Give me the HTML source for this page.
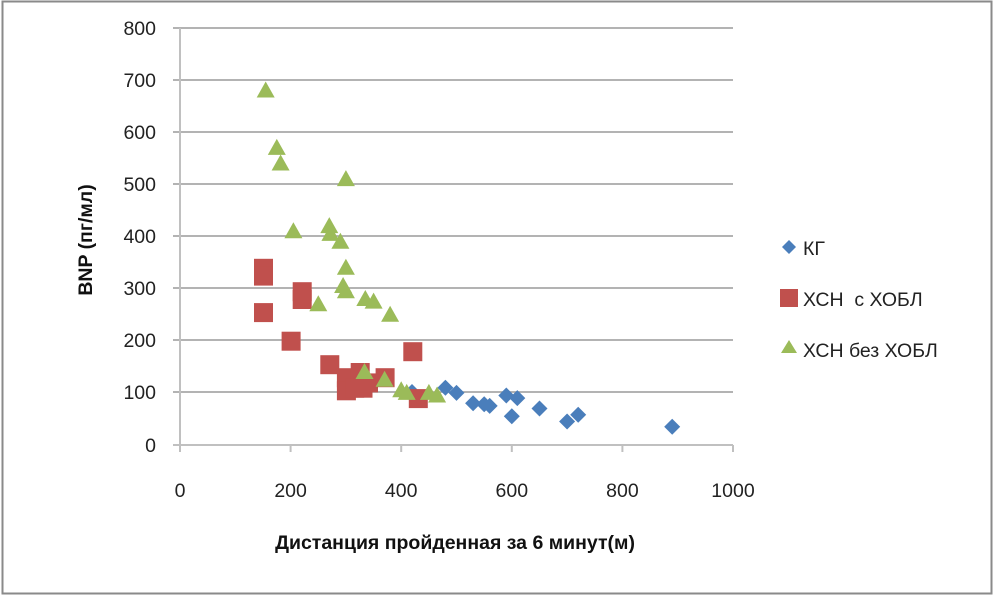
<!DOCTYPE html>
<html><head><meta charset="utf-8"><style>
body{margin:0;background:#fff}
svg{display:block;font-family:"Liberation Sans","DejaVu Sans",sans-serif}
</style></head><body>
<svg width="994" height="595" viewBox="0 0 994 595" xmlns="http://www.w3.org/2000/svg">
<rect x="2.5" y="1.5" width="989" height="592" fill="#fff" stroke="#8a8a8a" stroke-width="2"/>
<g stroke="#9a9a9a" stroke-width="1.5">
<line x1="173" y1="28" x2="733" y2="28"/>
<line x1="173" y1="80" x2="733" y2="80"/>
<line x1="173" y1="132" x2="733" y2="132"/>
<line x1="173" y1="184" x2="733" y2="184"/>
<line x1="173" y1="236" x2="733" y2="236"/>
<line x1="173" y1="288" x2="733" y2="288"/>
<line x1="173" y1="340" x2="733" y2="340"/>
<line x1="173" y1="392" x2="733" y2="392"/>
</g>
<g stroke="#c0c0c0" stroke-width="2">
<line x1="180" y1="28" x2="180" y2="445"/>
<line x1="173" y1="445" x2="733" y2="445"/>
<line x1="180" y1="445" x2="180" y2="452"/>
<line x1="290.6" y1="445" x2="290.6" y2="452"/>
<line x1="401.2" y1="445" x2="401.2" y2="452"/>
<line x1="511.8" y1="445" x2="511.8" y2="452"/>
<line x1="622.4" y1="445" x2="622.4" y2="452"/>
<line x1="733" y1="445" x2="733" y2="452"/>
</g>
<g font-size="19.5" fill="#222" text-anchor="end">
<text x="156" y="35">800</text><text x="156" y="87">700</text><text x="156" y="139">600</text>
<text x="156" y="191">500</text><text x="156" y="243">400</text><text x="156" y="295">300</text>
<text x="156" y="347">200</text><text x="156" y="399">100</text><text x="156" y="452">0</text>
</g>
<g font-size="19.5" fill="#222" text-anchor="middle">
<text x="180" y="497">0</text><text x="290.6" y="497">200</text><text x="401.2" y="497">400</text>
<text x="511.8" y="497">600</text><text x="622.4" y="497">800</text><text x="733" y="497">1000</text>
</g>
<text x="455" y="549" font-size="19.5" font-weight="bold" text-anchor="middle" fill="#111">Дистанция пройденная за 6 минут(м)</text>
<text transform="translate(92,240) rotate(-90)" font-size="19.5" font-weight="bold" text-anchor="middle" fill="#111">BNP (пг/мл)</text>
<g fill="#4a7ebb">
<path d="M445.4 379.7l8 8-8 8-8-8z"/><path d="M456.5 384.9l8 8-8 8-8-8z"/>
<path d="M473.1 395.3l8 8-8 8-8-8z"/><path d="M484.2 396.3l8 8-8 8-8-8z"/>
<path d="M489.7 397.9l8 8-8 8-8-8z"/><path d="M506.3 387.5l8 8-8 8-8-8z"/>
<path d="M517.3 390.1l8 8-8 8-8-8z"/><path d="M511.8 408.3l8 8-8 8-8-8z"/>
<path d="M539.5 400.5l8 8-8 8-8-8z"/><path d="M567.1 413.5l8 8-8 8-8-8z"/>
<path d="M578.2 406.8l8 8-8 8-8-8z"/><path d="M672.2 418.8l8 8-8 8-8-8z"/>
<path d="M412 384l8 8-8 8-8-8z"/>
</g>
<g fill="#c0504d">
<rect x="254" y="258.8" width="19" height="19"/><rect x="254" y="266.6" width="19" height="19"/>
<rect x="254" y="303.1" width="19" height="19"/><rect x="292.7" y="282.2" width="19" height="19"/>
<rect x="292.7" y="290" width="19" height="19"/><rect x="281.6" y="331.7" width="19" height="19"/>
<rect x="320.3" y="355.2" width="19" height="19"/><rect x="336.9" y="368.2" width="19" height="19"/>
<rect x="336.9" y="381.3" width="19" height="19"/><rect x="345.2" y="378.7" width="19" height="19"/>
<rect x="350.7" y="363" width="19" height="19"/><rect x="353.5" y="378.7" width="19" height="19"/>
<rect x="359" y="373.4" width="19" height="19"/><rect x="375.6" y="368.2" width="19" height="19"/>
<rect x="403.3" y="342.2" width="19" height="19"/><rect x="408.8" y="389.1" width="19" height="19"/>
</g>
<g fill="#9bbb59">
<path d="M265.7 81.5l9 16h-18z"/><path d="M276.8 138.9l9 16h-18z"/><path d="M280.6 154.5l9 16h-18z"/>
<path d="M345.9 170.1l9 16h-18z"/><path d="M293.4 222.3l9 16h-18z"/><path d="M329.3 217.1l9 16h-18z"/>
<path d="M330.4 224.9l9 16h-18z"/><path d="M340.4 232.7l9 16h-18z"/><path d="M345.9 258.8l9 16h-18z"/>
<path d="M343.1 277l9 16h-18z"/><path d="M345.9 282.2l9 16h-18z"/><path d="M318.3 295.2l9 16h-18z"/>
<path d="M365.3 290l9 16h-18z"/><path d="M373.6 292.6l9 16h-18z"/><path d="M390.1 305.7l9 16h-18z"/>
<path d="M364.5 363l9 16h-18z"/><path d="M384.6 370.8l9 16h-18z"/><path d="M401.2 381.3l9 16h-18z"/>
<path d="M406.7 383.9l9 16h-18z"/><path d="M428.9 383.9l9 16h-18z"/><path d="M437.1 386.5l9 16h-18z"/>
</g>
<path d="M789 240l7 7-7 7-7-7z" fill="#4a7ebb"/>
<rect x="780" y="289" width="18" height="18" fill="#c0504d"/>
<path d="M789 340l8 13h-16z" fill="#9bbb59"/>
<g font-size="19.5" fill="#222">
<text x="803" y="255">КГ</text>
<text x="803" y="306" xml:space="preserve">ХСН  с ХОБЛ</text>
<text x="803" y="357">ХСН без ХОБЛ</text>
</g>
</svg>
</body></html>
